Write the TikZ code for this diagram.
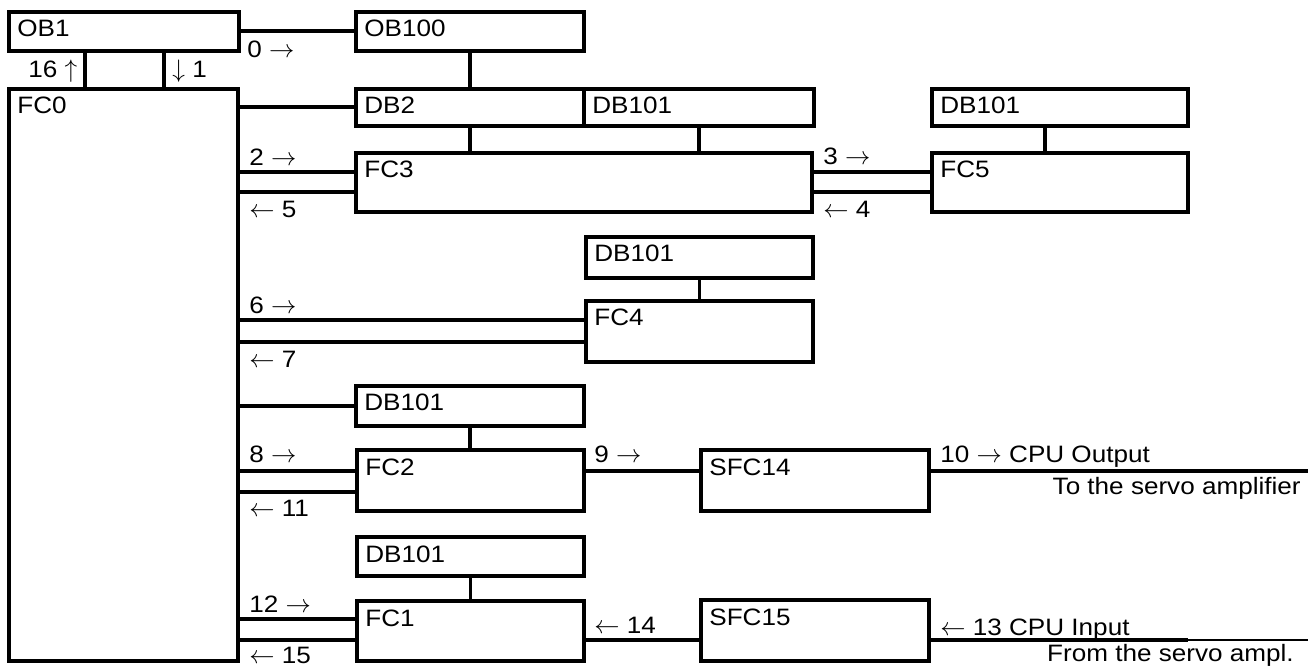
\documentclass[tikz,border=0pt]{standalone}
\usepackage{fontspec}
\setmainfont{Liberation Sans}[FakeStretch=1.1]
\usetikzlibrary{calc}

\tikzset{
  blk/.style={draw, line width=2pt, anchor=north west, inner sep=0pt},
  blkname/.style={anchor=base west, inner sep=0pt, xshift=0.2cm, yshift=-0.54cm,
    font=\fontsize{13.5}{16}\selectfont},
  wire/.style={line width=2pt},
  thinwire/.style={line width=0.7pt},
  tag/.style={anchor=base west, inner sep=0pt, font=\fontsize{13.5}{16}\selectfont},
}
% name, x, y, width, height, text (pixel units)
\newcommand{\blk}[6]{%
  \node[blk, minimum width=#4*0.02cm, minimum height=#5*0.02cm,
        label={[blkname]north west:#6}] (#1) at (#2,#3) {};}

\begin{document}
\begin{tikzpicture}[x=0.02cm, y=-0.02cm]
  \useasboundingbox (0,0) rectangle (1314,669);

  % Organisation blocks and main function
  \blk{ob1}{7}{10}{230}{39}{OB1}
  \blk{ob100}{354}{10}{228}{39}{OB100}
  \blk{fc0}{7}{87}{229}{572}{FC0}

  % Top row: data blocks and FC3 / FC5
  \blk{db2}{354}{87}{228}{37}{DB2}
  \blk{dbthree}{582}{87}{230}{37}{DB101}
  \blk{dbfive}{930}{87}{256}{37}{DB101}
  \blk{fc3}{354}{151}{456}{59}{FC3}
  \blk{fc5}{930}{151}{256}{59}{FC5}

  % FC4 branch
  \blk{dbfour}{584}{235}{227}{41}{DB101}
  \blk{fc4}{584}{299}{227}{61}{FC4}

  % FC2 branch
  \blk{dbtwo}{354}{384}{228}{40}{DB101}
  \blk{fc2}{355}{448}{227}{61}{FC2}
  \blk{sfc14}{699}{448}{228}{61}{SFC14}

  % FC1 branch
  \blk{dbone}{355}{535}{227}{39}{DB101}
  \blk{fc1}{355}{599}{227}{60}{FC1}
  \blk{sfc15}{699}{598}{228}{61}{SFC15}

  % OB1 <-> OB100, OB1 <-> FC0
  \draw[wire] (ob1.east) -- (ob100.west);
  \draw[wire] (85,0 |- ob1.south) -- (85,0 |- fc0.north);
  \draw[wire] (164,0 |- ob1.south) -- (164,0 |- fc0.north);
  \draw[wire] (ob100.south) -- (db2.north);

  % FC0 <-> FC3 <-> FC5
  \draw[wire] (db2.west -| fc0.east) -- (db2.west);
  \draw[wire] (db2.south) -- (db2.south |- fc3.north);
  \draw[wire] (dbthree.south) -- (dbthree.south |- fc3.north);
  \draw[wire] (1045,0 |- dbfive.south) -- (1045,0 |- fc5.north);
  \draw[wire] (fc0.east |- 0,172) -- (fc3.west |- 0,172);
  \draw[wire] (fc0.east |- 0,192) -- (fc3.west |- 0,192);
  \draw[wire] (fc3.east |- 0,172) -- (fc5.west |- 0,172);
  \draw[wire] (fc3.east |- 0,192) -- (fc5.west |- 0,192);

  % FC0 <-> FC4
  \draw[wire] (dbfour.south) -- (fc4.north);
  \draw[wire] (fc0.east |- 0,320) -- (fc4.west |- 0,320);
  \draw[wire] (fc0.east |- 0,342) -- (fc4.west |- 0,342);

  % FC0 <-> FC2 -> SFC14 -> servo
  \draw[wire] (dbtwo.west -| fc0.east) -- (dbtwo.west);
  \draw[wire] (dbtwo.south) -- (dbtwo.south |- fc2.north);
  \draw[wire] (fc0.east |- 0,471) -- (fc2.west |- 0,471);
  \draw[wire] (fc0.east |- 0,492) -- (fc2.west |- 0,492);
  \draw[wire] (fc2.east |- 0,471) -- (sfc14.west |- 0,471);
  \coordinate (servoout) at (1308,471);
  \draw[wire] (sfc14.east |- servoout) -- (servoout);

  % FC0 <-> FC1 <- SFC15 <- servo
  \draw[wire] (dbone.south) -- (fc1.north);
  \draw[wire] (fc0.east |- 0,619) -- (fc1.west |- 0,619);
  \draw[wire] (fc0.east |- 0,640) -- (fc1.west |- 0,640);
  \draw[wire] (fc1.east |- 0,640) -- (sfc15.west |- 0,640);
  \coordinate (servoin) at (1188,640);
  \coordinate (servoinend) at (1308,640);
  \draw[wire] (sfc15.east |- servoin) -- (servoin);
  \draw[thinwire] (servoin) -- (servoinend);

  % Step numbers
  \node[tag] (t0) at (247,58) {0 $\rightarrow$};
  \node[tag] (t16) at (28,78) {16 $\uparrow$};
  \node[tag] (t1) at (172,78) {$\downarrow$ 1};
  \node[tag] (t2) at (249,165) {2 $\rightarrow$};
  \node[tag] (t5) at (249,217) {$\leftarrow$ 5};
  \node[tag] (t3) at (823,164) {3 $\rightarrow$};
  \node[tag] (t4) at (823,217) {$\leftarrow$ 4};
  \node[tag] (t6) at (249,313) {6 $\rightarrow$};
  \node[tag] (t7) at (249,367) {$\leftarrow$ 7};
  \node[tag] (t8) at (249,462) {8 $\rightarrow$};
  \node[tag] (t11) at (249,516) {$\leftarrow$ 11};
  \node[tag] (t9) at (594,462) {9 $\rightarrow$};
  \node[tag] (t10) at (940,462) {10 $\rightarrow$ CPU Output};
  \node[tag, anchor=base east] (tout) at (1301,494) {To the servo amplifier};
  \node[tag] (t12) at (249,612) {12 $\rightarrow$};
  \node[tag] (t15) at (249,663) {$\leftarrow$ 15};
  \node[tag] (t14) at (594,633) {$\leftarrow$ 14};
  \node[tag] (t13) at (940,635) {$\leftarrow$ 13 CPU Input};
  \node[tag, anchor=base east] (tin) at (1294,661) {From the servo ampl.};
\end{tikzpicture}
\end{document}
